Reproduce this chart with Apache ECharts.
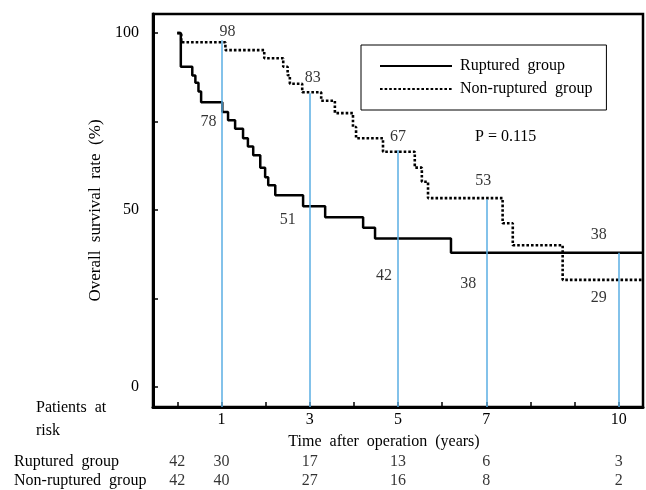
<!DOCTYPE html>
<html>
<head>
<meta charset="utf-8">
<script src="https://cdn.jsdelivr.net/npm/echarts@6/dist/echarts.min.js"></script>
<style>html,body{margin:0;padding:0;background:#fff}#pic_chart{width:646px;height:490px}</style>
</head>
<body>
<div id="pic_chart"></div>
<script>
// Kaplan-Meier steps: year of event, survival (%) after the event
var rupturedYears = [0, 0.08, 0.34, 0.41, 0.48, 0.54, 1.02, 1.15, 1.31, 1.49, 1.6, 1.72, 1.88, 1.99, 2.06, 2.22, 2.85, 3.35, 4.21, 4.48, 6.2, 10.55];
var rupturedSurv = [100, 90.5, 88, 86, 83.5, 80.5, 77.7, 75.4, 73, 70.3, 68, 65.5, 62, 59.3, 57, 54.2, 51.1, 48, 45, 42, 38, 38];
var nonRupturedYears = [0, 0.09, 1.09, 1.97, 2.4, 2.5, 2.55, 2.83, 3.26, 3.57, 3.98, 4.05, 4.66, 5.38, 5.54, 5.68, 7.37, 7.6, 8.73, 10.55];
var nonRupturedSurv = [100, 97.4, 95.2, 92.9, 90.5, 88.1, 85.7, 83.3, 80.9, 77.4, 73.5, 70.3, 66.5, 62, 58, 53.4, 46.3, 40.1, 30.3, 30.3];

var markYears = [1, 3, 5, 7, 10];
var rupturedAt = [78, 51, 42, 38, 38];
var nonRupturedAt = [98, 83, 67, 53, 29];

// patients at risk
var riskYears = [0, 1, 3, 5, 7, 10];
var rupturedRisk = [42, 30, 17, 13, 6, 3];
var nonRupturedRisk = [42, 40, 27, 16, 8, 2];
var groups = ['Ruptured group', 'Non-ruptured group'];

var xTicks = [0, 1, 2, 3, 4, 5, 6, 7, 8, 9, 10];
var xLabels = [1, 3, 5, 7, 10];
var yTicks = [0, 25, 50, 75, 100];
var yLabels = [0, 50, 100];

var serif = 'Liberation Serif';
var rupOffsets = [[-13, 11], [-22, 13], [-14, 37], [-18, 31], [-20, -18]];
var nonOffsets = [[6, -8], [3, -16], [0, -13], [-3, -19], [-20, 13]];

function zip(xs, ys) {
    return xs.map(function (x, i) { return [x, ys[i]]; });
}

var labelData = [];
markYears.forEach(function (yr, i) {
    labelData.push({value: [yr, rupturedAt[i], rupturedAt[i]], label: {offset: rupOffsets[i]}});
    labelData.push({value: [yr, nonRupturedAt[i], nonRupturedAt[i]], label: {offset: nonOffsets[i]}});
});

var blueLines = markYears.map(function (yr, i) {
    return [{coord: [yr, Math.max(rupturedAt[i], nonRupturedAt[i])]}, {coord: [yr, -5.6]}];
});

var riskData = [];
riskYears.forEach(function (yr, i) {
    riskData.push([yr, groups[0], rupturedRisk[i]]);
    riskData.push([yr, groups[1], nonRupturedRisk[i]]);
});

var myChart = echarts.init(document.getElementById('pic_chart'));
var option = {
    animation: false,
    textStyle: {fontFamily: serif, color: '#000'},
    legend: {
        data: groups,
        icon: 'inherit',
        orient: 'vertical',
        left: 361,
        top: 45,
        itemWidth: 72,
        itemHeight: 14,
        itemGap: 7,
        padding: [13, 14, 13, 18],
        borderColor: '#000',
        borderWidth: 1,
        itemStyle: {opacity: 0},
        lineStyle: {color: '#000'},
        formatter: function (n) { return n.replace(' group', '  group'); },
        textStyle: {fontFamily: serif, fontSize: 16, color: '#000', padding: [0, 0, 0, 3]}
    },
    grid: [
        {left: 153, right: 3, top: 14, bottom: 83, show: true, borderColor: '#000', borderWidth: 2.5},
        {left: 153, right: 3, top: 453, height: 40}
    ],
    xAxis: [
        {
            type: 'value', min: -0.55, max: 10.55,
            axisLine: {onZero: false, lineStyle: {color: '#000', width: 3}},
            axisTick: {inside: true, length: 5, customValues: xTicks, lineStyle: {color: '#000', width: 1.5}},
            axisLabel: {customValues: xLabels, margin: 5, fontSize: 16, fontFamily: serif, color: '#000'},
            splitLine: {show: false}
        },
        {gridIndex: 1, type: 'value', min: -0.55, max: 10.55, show: false}
    ],
    yAxis: [
        {
            type: 'value', min: -5.6, max: 105.4,
            name: 'Overall  survival  rate  (%)',
            nameLocation: 'middle', nameGap: 41, nameRotate: 90,
            nameTextStyle: {fontSize: 17, fontFamily: serif, color: '#000'},
            axisLine: {onZero: false, lineStyle: {color: '#000', width: 3}},
            axisTick: {inside: true, length: 5, customValues: yTicks, lineStyle: {color: '#000', width: 1.5}},
            axisLabel: {customValues: yLabels, margin: 14, fontSize: 16, fontFamily: serif, color: '#000'},
            splitLine: {show: false}
        },
        {
            gridIndex: 1, type: 'category', inverse: true, data: groups,
            axisLine: {show: false}, axisTick: {show: false}, splitLine: {show: false},
            axisLabel: {interval: 0, align: 'left', margin: 139, fontSize: 16, fontFamily: serif, color: '#000',
                formatter: function (n) { return n.replace(' group', '  group'); }}
        }
    ],
    series: [
        {
            type: 'line', data: [], silent: true,
            markLine: {
                silent: true, symbol: 'none', label: {show: false},
                lineStyle: {color: '#5aaee3', width: 1.5, type: 'solid'},
                data: blueLines
            }
        },
        {
            name: groups[0], type: 'line', step: 'end', symbol: 'none',
            lineStyle: {color: '#000', width: 2.5},
            itemStyle: {color: '#000'},
            data: zip(rupturedYears, rupturedSurv)
        },
        {
            name: groups[1], type: 'line', step: 'end', symbol: 'none',
            lineStyle: {color: '#000', width: 2.6, type: [2.6, 2]},
            itemStyle: {color: '#000'},
            data: zip(nonRupturedYears, nonRupturedSurv)
        },
        {
            type: 'scatter', symbolSize: 1, itemStyle: {color: 'rgba(0,0,0,0)'}, silent: true,
            label: {
                show: true, position: 'inside', fontSize: 16, fontFamily: serif, color: '#000',
                formatter: function (p) { return p.value[2]; }
            },
            data: labelData
        },
        {
            type: 'scatter', xAxisIndex: 1, yAxisIndex: 1, symbolSize: 1,
            itemStyle: {color: 'rgba(0,0,0,0)'}, silent: true,
            label: {
                show: true, position: 'inside', fontSize: 16, fontFamily: serif, color: '#000',
                formatter: function (p) { return p.value[2]; }
            },
            data: riskData
        }
    ],
    graphic: [
        {type: 'text', left: 36, top: 400, style: {text: 'Patients  at', font: '16px "Liberation Serif"', fill: '#000'}},
        {type: 'text', left: 36, top: 423, style: {text: 'risk', font: '16px "Liberation Serif"', fill: '#000'}},
        {type: 'text', x: 384, y: 442, style: {text: 'Time  after  operation  (years)', font: '16px "Liberation Serif"', fill: '#000', align: 'center', verticalAlign: 'middle'}},
        {type: 'text', x: 475, y: 137, style: {text: 'P = 0.115', font: '16px "Liberation Serif"', fill: '#000', verticalAlign: 'middle'}}
    ]
};
myChart.setOption(option);
</script>
</body>
</html>
